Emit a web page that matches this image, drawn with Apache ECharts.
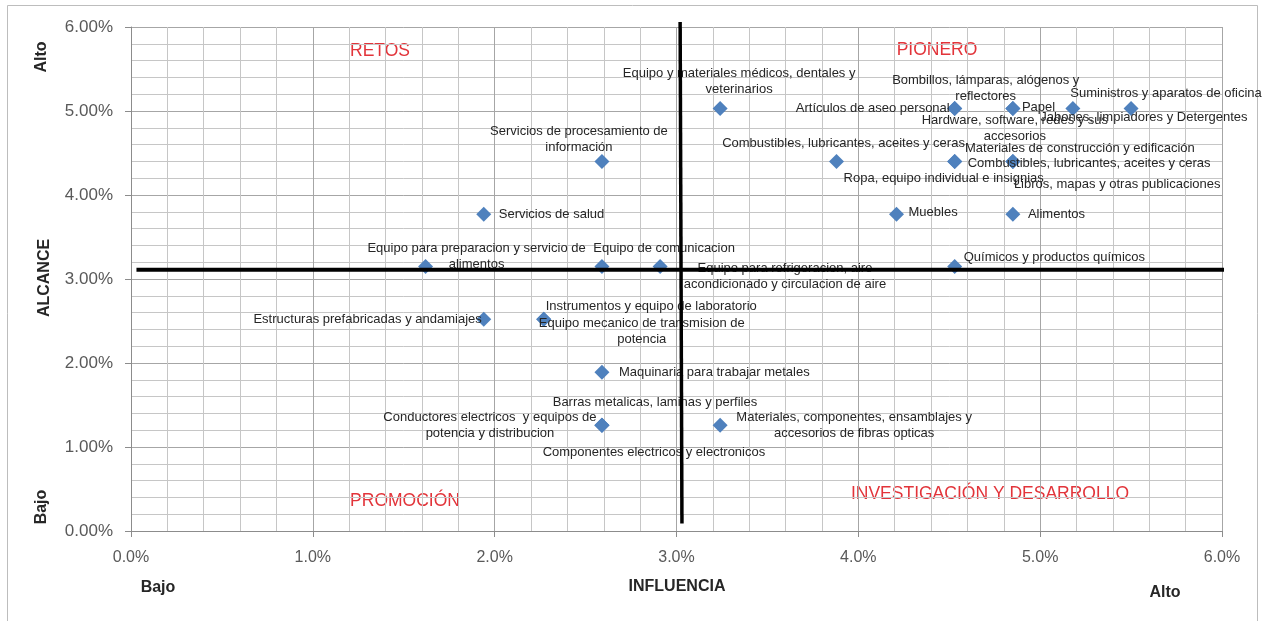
<!DOCTYPE html>
<html>
<head>
<meta charset="utf-8">
<script src="https://cdn.jsdelivr.net/npm/echarts@6/dist/echarts.min.js"></script>
<style>
  html, body { margin: 0; padding: 0; background: #fff; }
  #main { width: 1266px; height: 621px; }
</style>
</head>
<body>
<div id="main"></div>
<script>
// matriz influencia / alcance por categoria de producto
var categorias = [
  'Servicios de procesamiento de\ninformación',
  'Servicios de salud',
  'Equipo para preparacion y servicio de\nalimentos',
  'Equipo de comunicacion',
  'Equipo para refrigeracion, aire\nacondicionado y circulacion de aire',
  'Estructuras prefabricadas y andamiajes',
  'Instrumentos y equipo de laboratorio',
  'Equipo mecanico de transmision de\npotencia',
  'Maquinaria para trabajar metales',
  'Barras metalicas, laminas y perfiles',
  'Conductores electricos  y equipos de\npotencia y distribucion',
  'Componentes electricos y electronicos',
  'Materiales, componentes, ensamblajes y\naccesorios de fibras opticas',
  'Equipo y materiales médicos, dentales y\nveterinarios',
  'Artículos de aseo personal',
  'Bombillos, lámparas, alógenos y\nreflectores',
  'Papel',
  'Hardware, software, redes y sus\naccesorios',
  'Jabones, limpiadores y Detergentes',
  'Suministros y aparatos de oficina',
  'Combustibles, lubricantes, aceites y ceras',
  'Combustibles, lubricantes, aceites y ceras',
  'Ropa, equipo individual e insignias',
  'Materiales de construcción y edificación',
  'Libros, mapas y otras publicaciones',
  'Muebles',
  'Alimentos',
  'Químicos y productos químicos'
];

// INFLUENCIA (%)
var influencia = [
  2.59, 1.94, 1.62, 2.91, 2.59, 1.94, 2.27, 2.27, 2.59, 2.59, 2.59, 2.59, 3.24,
  3.24, 4.53, 4.53, 4.85, 4.85, 5.18, 5.50, 3.88, 4.53, 4.53, 4.85, 4.85,
  4.21, 4.85, 4.53
];

// ALCANCE (%)
var alcance = [
  4.40, 3.77, 3.15, 3.15, 3.15, 2.52, 2.52, 2.52, 1.89, 1.26, 1.26, 1.26, 1.26,
  5.03, 5.03, 5.03, 5.03, 5.03, 5.03, 5.03, 4.40, 4.40, 4.40, 4.40, 4.40,
  3.77, 3.77, 3.15
];

// lineas que separan los cuadrantes
var corteInfluencia = [3.02, 3.03];
var corteAlcance = 3.11;

var cuadrantes = ['RETOS', 'PIONERO', 'PROMOCIÓN', 'INVESTIGACIÓN Y DESARROLLO'];

// donde va cada etiqueta respecto a su punto (px) y como se alinea
var etiquetas = [
  [-23, -22, 'center'], [15, 0, 'left'], [51, -10, 'center'], [4, -18, 'center'],
  [183, 10, 'center'], [-2, 0, 'right'], [2, -13, 'left'], [98, 12, 'center'],
  [17, 0, 'left'], [53, -23, 'center'], [-112, 0, 'center'], [52, 27, 'center'],
  [134, 0, 'center'], [19, -27, 'center'], [-5, 0, 'right'], [31, -20, 'center'],
  [9, -1, 'left'], [2, 20, 'center'], [71, 9, 'center'], [35, -15, 'center'],
  [7, -18, 'center'], [13, 2, 'left'], [-11, 17, 'center'], [67, -13, 'center'],
  [1, 23, 'left'], [12, -2, 'left'], [15, 0, 'left'], [9, -9, 'left']
];

var puntos = categorias.map(function (nombre, i) {
  return {
    name: nombre,
    value: [influencia[i], alcance[i]],
    label: { align: etiquetas[i][2] }
  };
});

var chart = echarts.init(document.getElementById('main'));

var rojo = '#e2343a';
var fuenteCuadrante = '17.5px "Liberation Sans", Arial, sans-serif';
var fuenteTitulo = 'bold 16px "Liberation Sans", Arial, sans-serif';

var option = {
  backgroundColor: '#ffffff',
  animation: false,
  grid: {
    left: 131,
    right: 44,
    top: 27,
    bottom: 90
  },
  xAxis: {
    type: 'value',
    min: 0,
    max: 6,
    interval: 1,
    axisLine: { show: true, onZero: false, lineStyle: { color: '#8c8c8c', width: 1 } },
    axisTick: { show: true, length: 6, lineStyle: { color: '#8c8c8c' } },
    axisLabel: {
      margin: 19,
      color: '#595959',
      fontSize: 16,
      fontFamily: 'Liberation Sans',
      formatter: function (v) { return v.toFixed(1) + '%'; }
    },
    splitLine: { show: true, lineStyle: { color: '#a6a6a6', width: 1 } },
    minorTick: { show: false, splitNumber: 5 },
    minorSplitLine: { show: true, lineStyle: { color: '#c6c6c6', width: 1 } }
  },
  yAxis: {
    type: 'value',
    min: 0,
    max: 6,
    interval: 1,
    axisLine: { show: true, onZero: false, lineStyle: { color: '#8c8c8c', width: 1 } },
    axisTick: { show: true, length: 6, lineStyle: { color: '#8c8c8c' } },
    axisLabel: {
      margin: 18,
      color: '#595959',
      fontSize: 17,
      fontFamily: 'Liberation Sans',
      formatter: function (v) { return v.toFixed(2) + '%'; }
    },
    splitLine: { show: true, lineStyle: { color: '#a6a6a6', width: 1 } },
    minorTick: { show: false, splitNumber: 5 },
    minorSplitLine: { show: true, lineStyle: { color: '#c6c6c6', width: 1 } }
  },
  series: [
    {
      name: 'Productos',
      type: 'scatter',
      z: 2,
      symbol: 'diamond',
      symbolSize: 15,
      itemStyle: { color: '#4f81bd', opacity: 1 },
      label: {
        show: true,
        position: 'inside',
        verticalAlign: 'middle',
        color: '#262626',
        fontSize: 13,
        lineHeight: 16,
        fontFamily: 'Liberation Sans',
        formatter: function (p) { return p.name; }
      },
      labelLayout: function (params) {
        var e = etiquetas[params.dataIndex];
        return { dx: e[0], dy: e[1], hideOverlap: false };
      },
      data: puntos
    },
    {
      name: 'corte vertical',
      type: 'line',
      z: 5,
      clip: false,
      symbol: 'none',
      silent: true,
      lineStyle: { color: '#000000', width: 3.5 },
      data: [[corteInfluencia[0], 6.06], [corteInfluencia[1], 0.09]]
    },
    {
      name: 'corte horizontal',
      type: 'line',
      z: 5,
      clip: false,
      symbol: 'none',
      silent: true,
      lineStyle: { color: '#000000', width: 4 },
      data: [[0.03, corteAlcance], [6.02, corteAlcance]]
    }
  ],
  graphic: [
    {
      type: 'rect',
      silent: true,
      shape: { x: 7.5, y: 5.5, width: 1250, height: 640 },
      style: { fill: 'none', stroke: '#bdbdbd', lineWidth: 1 }
    },
    { type: 'text', x: 380, y: 51, style: { text: cuadrantes[0], fill: rojo, font: fuenteCuadrante, textAlign: 'center', textVerticalAlign: 'middle' } },
    { type: 'text', x: 937, y: 50, style: { text: cuadrantes[1], fill: rojo, font: fuenteCuadrante, textAlign: 'center', textVerticalAlign: 'middle' } },
    { type: 'text', x: 405, y: 501, style: { text: cuadrantes[2], fill: rojo, font: fuenteCuadrante, textAlign: 'center', textVerticalAlign: 'middle' } },
    { type: 'text', x: 990, y: 494, style: { text: cuadrantes[3], fill: rojo, font: fuenteCuadrante, textAlign: 'center', textVerticalAlign: 'middle' } },
    { type: 'text', x: 677, y: 587, style: { text: 'INFLUENCIA', fill: '#262626', font: fuenteTitulo, textAlign: 'center', textVerticalAlign: 'middle' } },
    { type: 'text', x: 158, y: 588, style: { text: 'Bajo', fill: '#262626', font: fuenteTitulo, textAlign: 'center', textVerticalAlign: 'middle' } },
    { type: 'text', x: 1165, y: 593, style: { text: 'Alto', fill: '#262626', font: fuenteTitulo, textAlign: 'center', textVerticalAlign: 'middle' } },
    { type: 'text', x: 45, y: 278, rotation: Math.PI / 2, style: { text: 'ALCANCE', fill: '#262626', font: fuenteTitulo, textAlign: 'center', textVerticalAlign: 'middle' } },
    { type: 'text', x: 42, y: 57, rotation: Math.PI / 2, style: { text: 'Alto', fill: '#262626', font: fuenteTitulo, textAlign: 'center', textVerticalAlign: 'middle' } },
    { type: 'text', x: 42, y: 507, rotation: Math.PI / 2, style: { text: 'Bajo', fill: '#262626', font: fuenteTitulo, textAlign: 'center', textVerticalAlign: 'middle' } }
  ]
};

chart.setOption(option);
</script>
</body>
</html>
